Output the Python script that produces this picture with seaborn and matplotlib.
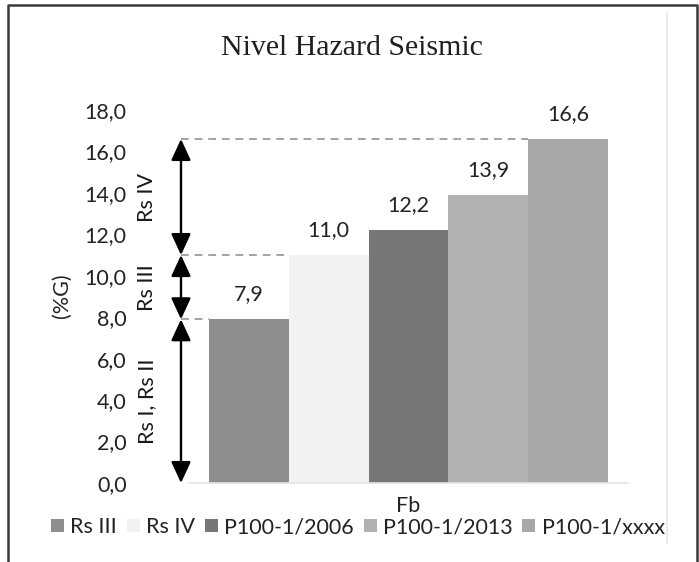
import matplotlib
matplotlib.use("Agg")
import matplotlib.pyplot as plt
from matplotlib.patches import Rectangle
from matplotlib.lines import Line2D
import seaborn as sns
import pandas as pd

# --- data -------------------------------------------------------------
series = ["Rs III", "Rs IV", "P100-1/2006", "P100-1/2013", "P100-1/xxxx"]
values = [7.9, 11.0, 12.2, 13.9, 16.6]
category = "Fb"
bar_colors = ["#8e8e8e", "#f2f2f2", "#777777", "#b1b1b1", "#a8a8a8"]

# bracket zones on the left: (label, lower, upper)
zone_labels = ["Rs I, Rs II", "Rs III", "Rs IV"]
zone_bounds = [0.0, 7.9, 11.0, 16.6]
y_ticks = [0, 2, 4, 6, 8, 10, 12, 14, 16, 18]

df = pd.DataFrame({"cat": [category] * len(series), "serie": series, "val": values})

sns.set_theme(style="white")
plt.rcParams["font.family"] = ["Lato", "DejaVu Sans"]

W, H = 699, 562
fig = plt.figure(figsize=(W / 100, H / 100), dpi=100)

# axes placement (pixels)
ax_l, ax_r, ax_b, ax_t = 135, 662, 483, 110
ax = fig.add_axes([ax_l / W, 1 - ax_b / H, (ax_r - ax_l) / W, (ax_b - ax_t) / H])

sns.barplot(data=df, x="cat", y="val", hue="serie", hue_order=series,
            palette=bar_colors, saturation=1, width=0.8, dodge=True,
            edgecolor="none", linewidth=0, ax=ax, legend=True)

# horizontal mapping: bars span -0.4..0.4
px_per_unit = 499.0
centre_px = 408.5
ax.set_xlim((ax_l - centre_px) / px_per_unit, (ax_r - centre_px) / px_per_unit)
ax.set_ylim(0, 18)
ax.set_yticks(y_ticks)
ax.set_yticklabels([f"{t:.1f}".replace(".", ",") for t in y_ticks])
txt = "#232323"
fs = 15.5
ax.tick_params(axis="y", length=0, pad=6, labelsize=fs, labelcolor=txt)
ax.tick_params(axis="x", length=0, pad=9, labelsize=fs, labelcolor=txt)
ax.set_xlabel("")
ax.set_ylabel("(%G)", fontsize=fs, color=txt)
ax.yaxis.set_label_coords((72 - ax_l) / (ax_r - ax_l), 0.5 - (296 - (ax_b + ax_t) / 2) / (ax_b - ax_t))

for s in ["left", "right", "top"]:
    ax.spines[s].set_visible(False)
ax.spines["bottom"].set_color("#e3e3e3")
ax.spines["bottom"].set_linewidth(1.2)
ax.spines["bottom"].set_bounds(-0.44, 0.44)

# value labels above bars
bars = [p for p in ax.patches if p.get_height() > 0]
bars.sort(key=lambda p: p.get_x())
for p, v in zip(bars, values):
    ax.annotate(f"{v:.1f}".replace(".", ","),
                (p.get_x() + p.get_width() / 2, v),
                xytext=(0, 11), textcoords="offset points",
                ha="center", va="bottom", fontsize=fs, color=txt)

# bracket arrows with dashed guides
arrow_x = (181 - centre_px) / px_per_unit
label_x = (147 - centre_px) / px_per_unit
for lab, lo, hi in zip(zone_labels, zone_bounds[:-1], zone_bounds[1:]):
    ax.annotate("", xy=(arrow_x, hi), xytext=(arrow_x, lo),
                arrowprops=dict(arrowstyle="<|-|>,head_length=0.65,head_width=0.3",
                                color="black", lw=1.7, shrinkA=0, shrinkB=0,
                                mutation_scale=20))
    ax.text(label_x, (lo + hi) / 2, lab, rotation=90, ha="center", va="center",
            fontsize=fs, color="#1a1a1a")

for v in zone_bounds[1:]:
    target = next(p for p, val in zip(bars, values) if abs(val - v) < 1e-9)
    ax.plot([arrow_x, target.get_x()], [v, v], ls=(0, (4, 3)),
            color="#a3a3a3", lw=1.4, zorder=1)

# legend
handles = [Rectangle((0, 0), 1, 1, facecolor=c, edgecolor="none") for c in bar_colors]
ax.get_legend().remove()
fig.legend(handles, series, loc="center", bbox_to_anchor=(358 / W, 1 - 527 / H),
           ncol=5, frameon=False, fontsize=fs, handlelength=0.6, handleheight=0.6,
           handletextpad=0.3, columnspacing=0.45, labelcolor=txt,
           borderaxespad=0, borderpad=0)

# title
fig.text(352 / W, 1 - 48 / H, "Nivel Hazard Seismic", ha="center", va="center",
         fontsize=21.5, family="Liberation Serif", color="#1f1f1f")

# chart area edge and outer frame
fig.add_artist(Line2D([667 / W, 667 / W], [1 - 12 / H, 1 - 543 / H],
                      color="#ececec", lw=1.5))
fig.add_artist(Line2D([8 / W, 8 / W, 697 / W, 697 / W],
                      [0, 1 - 5 / H, 1 - 5 / H, 0], color="#3a3a3a", lw=1.8))

fig.savefig("out.png", dpi=100)
